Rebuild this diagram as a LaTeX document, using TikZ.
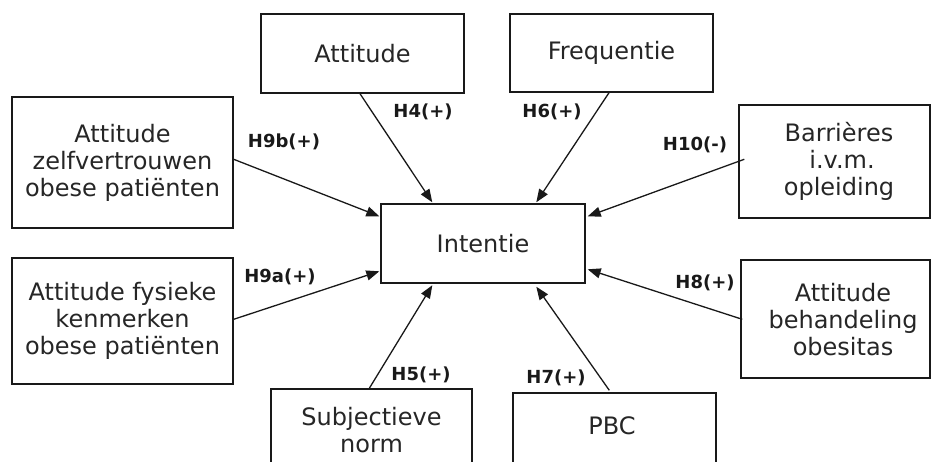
\documentclass[tikz,border=0pt]{standalone}
\usepackage{fontspec}
\setmainfont{DejaVu Sans}
\usetikzlibrary{arrows.meta,calc}

\tikzset{
  box/.style={draw=black!90, line width=1.4pt, fill=white, rectangle, inner sep=0pt,
              align=center, font=\fontsize{24}{27}\selectfont, text=black!85},
  txt/.style={inner sep=0pt, align=center, font=\fontsize{24}{27}\selectfont, text=black!85},
  hyp/.style={inner sep=0pt, font=\fontsize{18}{20}\selectfont\bfseries, text=black!90},
  link/.style={draw=black!90, line width=1.3pt, -{Triangle[length=13pt,width=10pt]}}
}

\begin{document}
\begin{tikzpicture}[x=1pt, y=-1pt]
  \useasboundingbox (0,0) rectangle (931,462);
  \clip (0,0) rectangle (931,462);
  \fill[white] (0,0) rectangle (931,462);

  % central construct
  \node[box, minimum width=204pt, minimum height=79pt] (int) at (483,243.5) {Intentie};

  % predictors above
  \node[box, minimum width=203pt, minimum height=79pt] (att)  at (362.5,53.5) {Attitude};
  \node[box, minimum width=203pt, minimum height=78pt] (freq) at (611.5,53)  {Frequentie};

  % predictors left
  \node[box, minimum width=221pt, minimum height=131pt] (zelf) at (122.5,162.5)
    {Attitude\\zelfvertrouwen\\obese patiënten};
  \node[box, minimum width=221pt, minimum height=126pt] (fys) at (122.5,321)
    {Attitude fysieke\\kenmerken\\obese patiënten};

  % predictors right (running past the page edge)
  \node[box, minimum width=191pt, minimum height=113pt] (barr) at (834.5,161.5) {};
  \node[txt] (barrt) at (839,161) {Barrières\\\hspace*{6pt}i.v.m.\\opleiding};
  \node[box, minimum width=189pt, minimum height=118pt] (beh) at (835.5,319) {};
  \node[txt] (beht) at (843,320) {Attitude\\behandeling\\obesitas};

  % predictors below (cut by the page edge)
  \node[box, minimum width=201pt, minimum height=110pt] (subj) at (371.5,444) {};
  \node[txt] (subjt) at (371.5,430) {Subjectieve\\norm};
  \node[box, minimum width=203pt, minimum height=110pt] (pbc) at (614.5,448) {};
  \node[txt] (pbct) at (612,426) {PBC};

  % connector end points on the borders
  \coordinate (s4)  at ($(att.south)+(-2.5,0)$);
  \coordinate (e4)  at ($(int.north west)+(52,-1)$);
  \coordinate (s6)  at ($(freq.south)+(-2.5,0)$);
  \coordinate (e6)  at ($(int.north west)+(156,-1)$);
  \coordinate (s9b) at ($(zelf.north east)+(0,63)$);
  \coordinate (e9b) at ($(int.north west)+(-1,13)$);
  \coordinate (s9a) at ($(fys.north east)+(0,62)$);
  \coordinate (e9a) at ($(int.north west)+(-1,68)$);
  \coordinate (s10) at ($(barr.north west)+(6,55)$);
  \coordinate (e10) at ($(int.north east)+(2,13)$);
  \coordinate (s8)  at ($(beh.north west)+(2,60)$);
  \coordinate (e8)  at ($(int.north east)+(2,66)$);
  \coordinate (s5)  at ($(subj.north west)+(99,0)$);
  \coordinate (e5)  at ($(int.south west)+(52,1.5)$);
  \coordinate (s7)  at ($(pbc.north west)+(97,-2)$);
  \coordinate (e7)  at ($(int.south west)+(156,3)$);

  % hypothesised paths
  \draw[link] (s4)  -- (e4);
  \draw[link] (s6)  -- (e6);
  \draw[link] (s9b) -- (e9b);
  \draw[link] (s9a) -- (e9a);
  \draw[link] (s10) -- (e10);
  \draw[link] (s8)  -- (e8);
  \draw[link] (s5)  -- (e5);
  \draw[link] (s7)  -- (e7);

  % hypothesis labels
  \node[hyp] (h4)  at (423,112) {H4(+)};
  \node[hyp] (h6)  at (552,112) {H6(+)};
  \node[hyp] (h9b) at (284,142) {H9b(+)};
  \node[hyp] (h9a) at (280,277) {H9a(+)};
  \node[hyp] (h10) at (695,145) {H10(-)};
  \node[hyp] (h8)  at (705,283) {H8(+)};
  \node[hyp] (h5)  at (421,375) {H5(+)};
  \node[hyp] (h7)  at (556,378) {H7(+)};
\end{tikzpicture}
\end{document}
